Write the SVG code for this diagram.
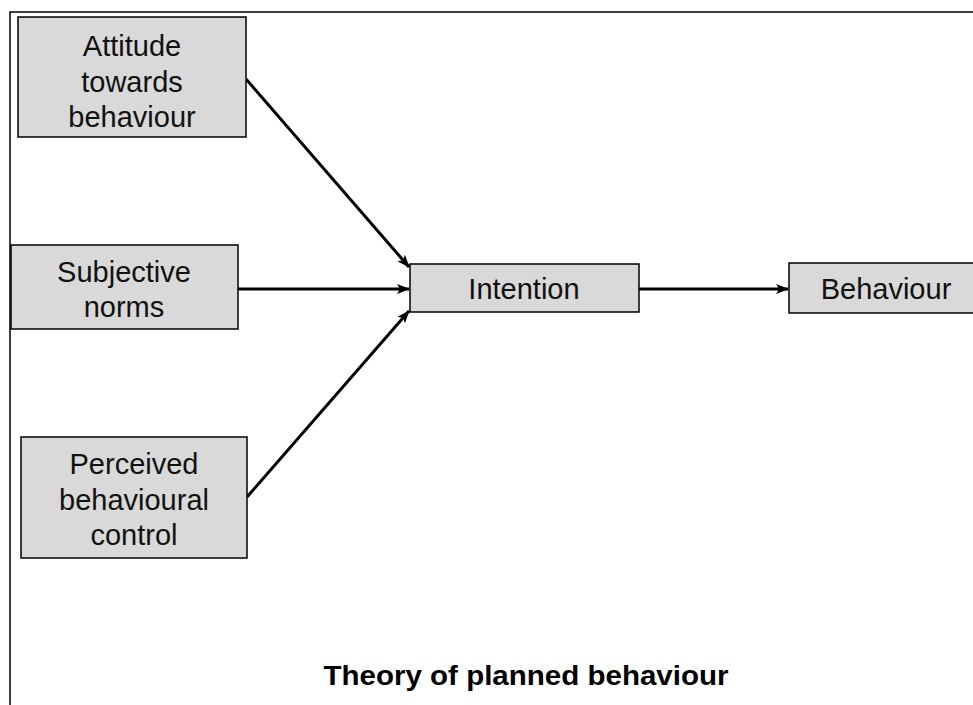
<svg xmlns="http://www.w3.org/2000/svg" width="973" height="705" viewBox="0 0 973 705">
<style>
.box{fill:#d9d9d9;stroke:#000;stroke-width:1.5}
.t{font-family:"Liberation Sans",Arial,sans-serif;font-size:29px;text-anchor:middle;fill:#111}
.c{stroke:#000;stroke-width:3;fill:none;marker-end:url(#ah)}
</style>
<defs>
<marker id="ah" markerWidth="13" markerHeight="10" refX="12" refY="5" orient="auto" markerUnits="userSpaceOnUse">
<path d="M0,0 L13,5 L0,10 L3,5 Z" fill="#000"/>
</marker>
</defs>
<rect width="973" height="705" fill="#fff"/>
<path d="M10,705 V12 H973" fill="none" stroke="#000" stroke-width="1.5"/>
<g id="connectors">
<line class="c" x1="246" y1="79" x2="409" y2="267"/>
<line class="c" x1="238" y1="289" x2="409" y2="289"/>
<line class="c" x1="247" y1="497" x2="409" y2="311"/>
<line class="c" x1="639" y1="289" x2="788" y2="289"/>
</g>
<g id="attitude">
<rect class="box" x="18" y="17" width="228" height="120"/>
<text class="t" x="132" y="56">Attitude</text>
<text class="t" x="132" y="92">towards</text>
<text class="t" x="132" y="127">behaviour</text>
</g>
<g id="norms">
<rect class="box" x="11" y="245" width="227" height="84"/>
<text class="t" x="124" y="282">Subjective</text>
<text class="t" x="124" y="317">norms</text>
</g>
<g id="control">
<rect class="box" x="21" y="437" width="226" height="121"/>
<text class="t" x="134" y="474">Perceived</text>
<text class="t" x="134" y="510">behavioural</text>
<text class="t" x="134" y="545">control</text>
</g>
<g id="intention">
<rect class="box" x="410" y="264" width="229" height="48"/>
<text class="t" x="524" y="299">Intention</text>
</g>
<g id="behaviour">
<rect class="box" x="789" y="263" width="190" height="50"/>
<text class="t" x="886" y="299">Behaviour</text>
</g>
<text x="526" y="685" font-family="'Liberation Sans',Arial,sans-serif" font-weight="bold" font-size="28" text-anchor="middle" textLength="405" lengthAdjust="spacingAndGlyphs">Theory of planned behaviour</text>
</svg>
